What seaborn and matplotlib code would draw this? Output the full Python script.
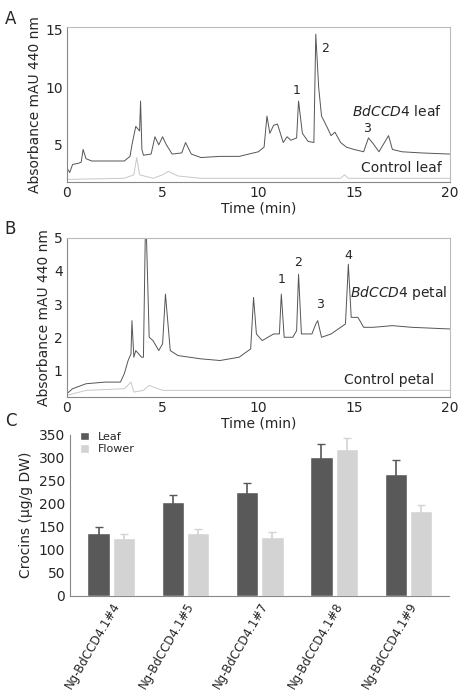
import numpy as np
import pandas as pd
import matplotlib
matplotlib.use("Agg")
import matplotlib.pyplot as plt
import seaborn as sns

# Panel A traces (time in min, absorbance)
leaf_t = [0, 0.15, 0.3, 0.6, 0.75, 0.85, 1.0, 1.3, 2.0, 3.0, 3.3, 3.4, 3.6, 3.8, 3.85, 3.92, 4.0, 4.4, 4.6,
          4.8, 5.0, 5.2, 5.5, 6.0, 6.2, 6.5, 7.0, 8.0, 9.0, 10.0, 10.3, 10.45, 10.6, 10.8, 11.0, 11.3, 11.5,
          11.7, 12.0, 12.1, 12.3, 12.6, 12.9, 13.0, 13.15, 13.3, 13.6, 13.8, 14.0, 14.3, 14.6, 15.0, 15.5,
          15.75, 16.0, 16.3, 16.8, 17.0, 17.5, 18.5, 20.0]
leaf_v = [3.0, 2.6, 3.3, 3.4, 3.5, 4.6, 3.8, 3.6, 3.6, 3.6, 4.0, 5.0, 6.6, 6.2, 8.8, 4.6, 4.1, 4.2, 5.7,
          5.0, 5.7, 5.0, 4.2, 4.3, 5.2, 4.2, 3.9, 4.0, 4.0, 4.4, 4.8, 7.5, 6.0, 6.7, 6.8, 5.2, 5.7,
          5.4, 5.6, 8.8, 6.0, 5.3, 5.2, 14.6, 10.0, 7.5, 6.5, 5.8, 6.1, 5.2, 4.8, 4.6, 4.4,
          5.6, 5.1, 4.4, 5.8, 4.6, 4.4, 4.3, 4.2]
ctrl_leaf_t = [0, 3.0, 3.5, 3.65, 3.8, 4.5, 5.0, 5.3, 5.8, 7.0, 14.3, 14.5, 14.7, 20.0]
ctrl_leaf_v = [2.0, 2.1, 2.4, 3.9, 2.4, 2.1, 2.4, 2.7, 2.3, 2.1, 2.1, 2.4, 2.1, 2.1]

# Panel B traces
petal_t = [0, 0.3, 1.0, 2.0, 2.8, 3.0, 3.2, 3.35, 3.4, 3.5, 3.6, 3.9, 4.0, 4.1, 4.15, 4.3, 4.5, 4.8, 5.0,
           5.15, 5.4, 5.8, 7.0, 8.0, 9.0, 9.6, 9.75, 9.9, 10.2, 10.8, 11.1, 11.2, 11.35, 11.8, 12.0, 12.1,
           12.25, 12.8, 13.0, 13.1, 13.3, 13.8, 14.3, 14.55, 14.7, 14.85, 15.2, 15.5, 16.0, 17.0, 18.0, 20.0]
petal_v = [0.3, 0.45, 0.6, 0.65, 0.65, 0.9, 1.3, 1.5, 2.5, 1.4, 1.6, 1.4, 1.4, 5.2, 5.2, 2.0, 1.9, 1.6, 1.8,
           3.3, 1.6, 1.45, 1.35, 1.3, 1.4, 1.65, 3.2, 2.1, 1.9, 2.1, 2.1, 3.3, 2.0, 2.0, 2.2, 3.9,
           2.1, 2.1, 2.4, 2.5, 2.0, 2.1, 2.3, 2.4, 4.2, 2.6, 2.6, 2.3, 2.3, 2.35, 2.3, 2.25]
ctrl_petal_t = [0, 1.0, 3.0, 3.35, 3.5, 4.0, 4.3, 5.0, 20.0]
ctrl_petal_v = [0.25, 0.4, 0.45, 0.65, 0.35, 0.4, 0.55, 0.4, 0.4]

# Panel C bars
lines = ["Ng-BdCCD4.1#4", "Ng-BdCCD4.1#5", "Ng-BdCCD4.1#7", "Ng-BdCCD4.1#8", "Ng-BdCCD4.1#9"]
leaf_crocins = [137, 203, 226, 302, 265]
flower_crocins = [125, 136, 128, 320, 183]
leaf_err = [12, 15, 20, 27, 30]
flower_err = [10, 8, 10, 22, 15]

sns.set_style("white")
plt.rcParams['font.family'] = ['DejaVu Sans']
fig = plt.figure(figsize=(4.74, 6.99), dpi=100)

def trace_panel(rect, t1, v1, t2, v2, ylim, yticks, labels, lab1, lab2, letter):
    ax = fig.add_axes(rect)
    sns.lineplot(x=t1, y=v1, ax=ax, color="#555555", lw=0.7)
    sns.lineplot(x=t2, y=v2, ax=ax, color="#c8c8c8", lw=0.7)
    ax.set_xlim(0, 20)
    ax.set_ylim(*ylim)
    ax.set_yticks(yticks)
    ax.set_xticks([0, 5, 10, 15, 20])
    for s in ax.spines.values():
        s.set_color("#bbbbbb")
        s.set_linewidth(0.8)
    ax.spines['left'].set_color("#888888")
    ax.spines['bottom'].set_color("#888888")
    ax.tick_params(labelsize=10, length=0, pad=3)
    ax.set_xlabel("Time (min)", fontsize=10, labelpad=1)
    ax.set_ylabel("Absorbance mAU 440 nm", fontsize=10, labelpad=2)
    for (x, y, s) in labels:
        ax.text(x, y, s, fontsize=9, ha="center", va="center")
    ax.text(lab1[0], lab1[1], "$\\it{BdCCD4}$ " + lab1[2], fontsize=10, ha="right", va="center")
    ax.text(lab2[0], lab2[1], lab2[2], fontsize=10, ha="right", va="center")
    fig.text(0.01, rect[1] + rect[3] + 0.005, letter, fontsize=12)
    return ax

trace_panel([0.141, 0.74, 0.808, 0.221], leaf_t, leaf_v, ctrl_leaf_t, ctrl_leaf_v,
            (1.8, 15.2), [5, 10, 15],
            [(12.0, 9.7, "1"), (13.5, 13.4, "2"), (15.7, 6.4, "3")],
            (19.6, 7.9, "leaf"), (19.6, 3.0, "Control leaf"), "A")
trace_panel([0.141, 0.432, 0.808, 0.228], petal_t, petal_v, ctrl_petal_t, ctrl_petal_v,
            (0.2, 5.0), [1, 2, 3, 4, 5],
            [(11.2, 3.75, "1"), (12.1, 4.25, "2"), (13.2, 3.0, "3"), (14.7, 4.47, "4")],
            (19.9, 3.33, "petal"), (19.2, 0.72, "Control petal"), "B")

axc = fig.add_axes([0.148, 0.148, 0.8, 0.23])
df = pd.DataFrame({"line": lines * 2, "crocins": leaf_crocins + flower_crocins,
                   "tissue": ["Leaf"] * 5 + ["Flower"] * 5})
sns.barplot(data=df, x="line", y="crocins", hue="tissue", ax=axc,
            palette=["#595959", "#d3d3d3"], width=0.68, gap=0.12, errorbar=None)
errs = leaf_err + flower_err
vals = leaf_crocins + flower_crocins
for p, e, v in zip(axc.patches[:10], errs, vals):
    axc.errorbar(p.get_x() + p.get_width() / 2, v, yerr=e, fmt="none",
                 ecolor=p.get_facecolor(), capsize=3, lw=1.2)
axc.set_ylim(0, 350)
axc.set_yticks(range(0, 351, 50))
axc.set_xlabel("")
axc.set_ylabel("Crocins (µg/g DW)", fontsize=10)
axc.tick_params(labelsize=10, length=0)
axc.set_xticks(range(5))
axc.set_xticklabels(lines, rotation=60, ha="right", rotation_mode="anchor", fontsize=8.5)
for s in ["top", "right"]:
    axc.spines[s].set_visible(False)
axc.spines['left'].set_color("#888888")
axc.spines['bottom'].set_color("#888888")
axc.legend(loc="upper left", bbox_to_anchor=(0.0, 1.08), frameon=False, fontsize=8,
           handlelength=0.8, handleheight=0.8, labelspacing=0.2)
fig.text(0.01, 0.39, "C", fontsize=12)

fig.savefig("out.png", dpi=100)
